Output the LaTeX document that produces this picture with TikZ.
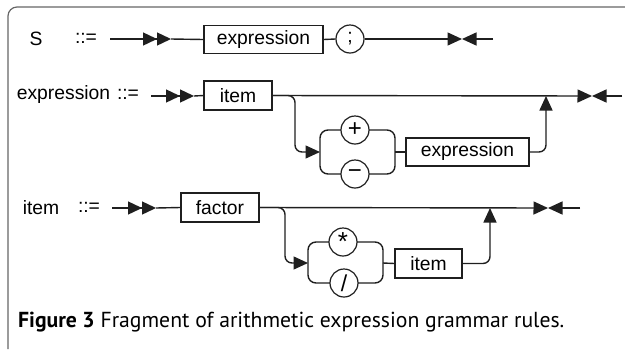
\documentclass[tikz,border=0pt]{standalone}
\usepackage{fontspec}
\setmainfont{Liberation Sans}
\newfontfamily\capfont{PT Sans}
\usetikzlibrary{arrows.meta}

\tikzset{
  rail/.style={line width=1.4pt, draw=black!88},
  frameline/.style={line width=1.2pt, draw=black!60},
  dfont/.style={font=\fontsize{19.3}{19.3}\selectfont},
  termbox/.style={draw=black!88, line width=1.2pt, minimum height=28pt, inner sep=0pt, dfont},
  tok/.style={circle, draw=black!88, fill=white, line width=1.2pt, minimum size=28pt, inner sep=0pt, dfont},
  lbl/.style={inner sep=0pt, dfont},
  entry/.style={rail, -{Triangle[length=14pt,width=13pt]Triangle[length=14pt,width=13pt]}},
  tipped/.style={rail, -{Triangle[length=14.5pt,width=13pt]}},
  railbend/.style={rounded corners=7pt},
}

\begin{document}
\begin{tikzpicture}[x=1pt,y=-1pt]
\useasboundingbox (0,0) rectangle (625,349);

% outer frame (top and left edges)
\draw[frameline, rounded corners=9pt] (8,349) -- (8,7) -- (625,7);

% ---------- S ::= expression ; ----------
\node[lbl] (r1name) at (36,39) {S};
\node[lbl] (r1def) at (86,38) {::=};
\coordinate (r1start) at (110,39);
\coordinate (r1in) at (171,39);
\node[termbox, minimum width=119pt] (r1expr) at (263.5,39.5) {expression};
\node[tok] (r1semi) at (350,39) {;};
\coordinate (r1tip) at (462,39);
\coordinate (r1end) at (493,39);

\draw[entry] (r1start) -- (r1in);
\draw[rail] (r1in) -- (r1expr.west);
\draw[rail] (r1expr.east) -- (r1semi.west);
\draw[tipped] (r1semi.east) -- (r1tip);
\draw[tipped] (r1end) -- (r1tip);

% ---------- expression ::= item [ (+|-) expression ] ----------
\node[lbl] (r2name) at (63.5,95) {expression};
\node[lbl] (r2def) at (128,94) {::=};
\coordinate (r2start) at (151,96);
\coordinate (r2in) at (194,96);
\node[termbox, minimum width=68pt, minimum height=29pt] (r2item) at (238,95.5) {item};
\coordinate (r2tip) at (592,96);
\coordinate (r2end) at (622,96);
\coordinate (r2drop) at (295,152);
\coordinate (r2cw) at (320,152);
\coordinate (r2ce) at (395,152);
\coordinate (r2join) at (546,96);
\node[termbox, minimum width=123pt] (r2expr) at (467.5,152) {expression};

\draw[entry] (r2start) -- (r2in);
\draw[rail] (r2in) -- (r2item.west);
\draw[tipped] (r2item.east) -- (r2tip);
\draw[tipped] (r2end) -- (r2tip);
\draw[tipped, railbend] (r2item.east) -| (r2drop) -- (r2cw);
\draw[rail, rounded corners=8pt] (320,130) rectangle (395,174);
\node[tok, font=\fontsize{24}{24}\selectfont] (r2plus) at (355,130) {+};
\node[tok, font=\fontsize{24}{24}\selectfont] (r2minus) at (355,174) {−};
\draw[rail] (r2ce) -- (r2expr.west);
\draw[tipped, railbend] (r2expr.east) -| (r2join);

% ---------- item ::= factor [ (*|/) item ] ----------
\node[lbl] (r3name) at (41,208) {item};
\node[lbl] (r3def) at (89,207) {::=};
\coordinate (r3start) at (112,208);
\coordinate (r3in) at (156,208);
\node[termbox, minimum width=78pt, minimum height=29pt] (r3factor) at (220,207.5) {factor};
\coordinate (r3tip) at (548,208);
\coordinate (r3end) at (580,208);
\coordinate (r3drop) at (285,263);
\coordinate (r3cw) at (308,263);
\coordinate (r3ce) at (383,263);
\coordinate (r3join) at (490,208);
\node[termbox, minimum width=67pt, minimum height=29pt] (r3item) at (428.5,263.5) {item};

\draw[entry] (r3start) -- (r3in);
\draw[rail] (r3in) -- (r3factor.west);
\draw[tipped] (r3factor.east) -- (r3tip);
\draw[tipped] (r3end) -- (r3tip);
\draw[tipped, railbend] (r3factor.east) -| (r3drop) -- (r3cw);
\draw[rail, rounded corners=8pt] (308,242) rectangle (383,283);
\node[tok] (r3star) at (343,242) {\raisebox{-0.28em}{\fontsize{26}{26}\selectfont *}};
\node[tok, font=\fontsize{23}{23}\selectfont] (r3slash) at (344,283) {/};
\draw[rail] (r3ce) -- (r3item.west);
\draw[tipped, railbend] (r3item.east) -| (r3join);

% ---------- caption ----------
\node[anchor=base west, inner sep=0pt, font=\capfont\fontsize{21.7}{21.7}\selectfont] (cap) at (18,327)
  {\textbf{Figure 3} Fragment of arithmetic expression grammar rules.};
\end{tikzpicture}
\end{document}
